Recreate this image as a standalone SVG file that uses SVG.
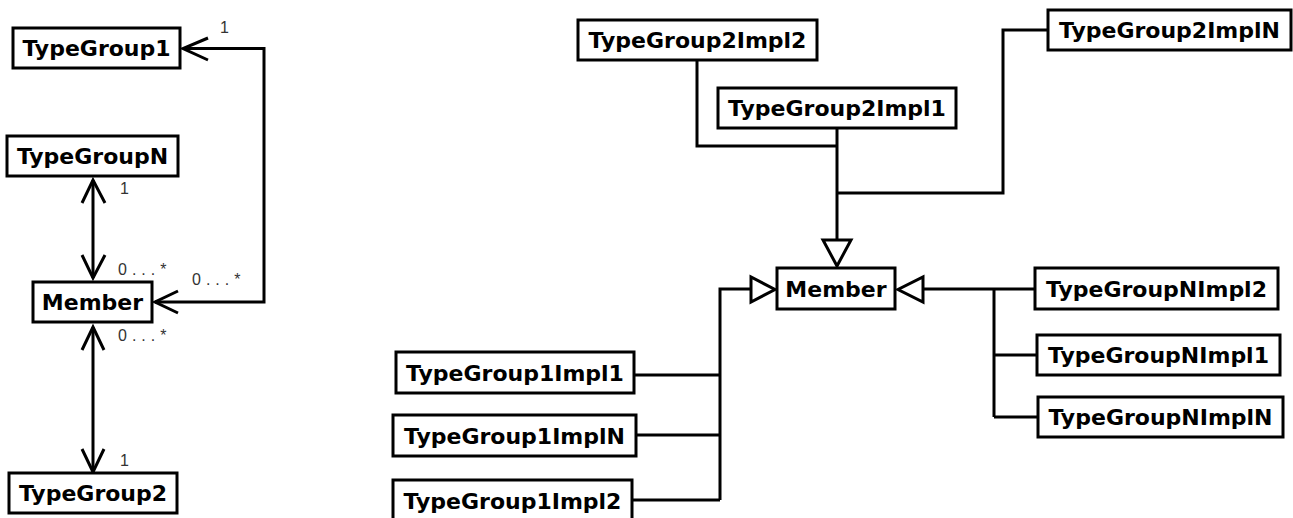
<svg xmlns="http://www.w3.org/2000/svg" width="1293" height="518" viewBox="0 0 1293 518">
<style>
.box{fill:#fff;stroke:#000;stroke-width:3}
.t{font-family:"DejaVu Sans",sans-serif;font-weight:bold;font-size:22px;text-anchor:middle;fill:#000}
.c{fill:none;stroke:#000;stroke-width:3}
.tri{fill:#fff;stroke:#000;stroke-width:3;stroke-linejoin:miter}
.m{font-family:"Liberation Sans",Arial,sans-serif;font-size:16px;fill:#333;letter-spacing:5px}
.n{font-family:"Liberation Sans",Arial,sans-serif;font-size:16px;fill:#333}
</style>
<rect width="1293" height="518" fill="#fff"/>
<g id="connectors">
<path class="c" d="M155,302 H264 V48.5 H183"/>
<path class="c" d="M208,38 L183,48.5 L208,60"/>
<path class="c" d="M178,291 L155,302 L178,313"/>
<path class="c" d="M93,180 V278"/>
<path class="c" d="M82,203 L93,180 L105,203"/>
<path class="c" d="M82,255 L93,278 L105,255"/>
<path class="c" d="M93,327 V472"/>
<path class="c" d="M82,350 L93,327 L104,350"/>
<path class="c" d="M82,449 L93,472 L104,449"/>
<path class="c" d="M697,60 V146 H837"/>
<path class="c" d="M837,128 V240"/>
<path class="c" d="M1048,30 H1003 V193 H837"/>
<polygon class="tri" points="823,240 851,240 837,266"/>
<path class="c" d="M751,289 H720 V500"/>
<path class="c" d="M634,375 H720"/>
<path class="c" d="M636,435 H720"/>
<path class="c" d="M632,500 H720"/>
<polygon class="tri" points="751,277 751,302 775,289.5"/>
<path class="c" d="M923,289 H1035"/>
<path class="c" d="M994,289 V417"/>
<path class="c" d="M994,355 H1037"/>
<path class="c" d="M994,417 H1038"/>
<polygon class="tri" points="923,277 923,302 898,289.5"/>
<text class="n" x="220" y="33">1</text>
<text class="n" x="120" y="194">1</text>
<text class="m" x="118" y="275">0...*</text>
<text class="m" x="192" y="285">0...*</text>
<text class="m" x="118" y="341">0...*</text>
<text class="n" x="120" y="466">1</text>
</g>
<g id="TypeGroup1"><rect class="box" x="13" y="28" width="167" height="40"/><text class="t" x="96.5" y="56">TypeGroup1</text></g>
<g id="TypeGroupN"><rect class="box" x="7" y="136" width="171" height="40"/><text class="t" x="92.5" y="164">TypeGroupN</text></g>
<g id="MemberL"><rect class="box" x="33" y="282" width="119" height="40"/><text class="t" x="92.5" y="310">Member</text></g>
<g id="TypeGroup2"><rect class="box" x="9" y="473" width="168" height="40"/><text class="t" x="93" y="501">TypeGroup2</text></g>
<g id="TypeGroup2Impl2"><rect class="box" x="578" y="20" width="239" height="40"/><text class="t" x="697.5" y="48">TypeGroup2Impl2</text></g>
<g id="TypeGroup2Impl1"><rect class="box" x="718" y="88" width="238" height="40"/><text class="t" x="837" y="116">TypeGroup2Impl1</text></g>
<g id="TypeGroup2ImplN"><rect class="box" x="1048" y="10" width="243" height="40"/><text class="t" x="1169.5" y="38">TypeGroup2ImplN</text></g>
<g id="MemberR"><rect class="box" x="777" y="268" width="118" height="41"/><text class="t" x="836" y="296.5">Member</text></g>
<g id="TypeGroup1Impl1"><rect class="box" x="396" y="352" width="238" height="41"/><text class="t" x="515" y="380.5">TypeGroup1Impl1</text></g>
<g id="TypeGroup1ImplN"><rect class="box" x="393" y="415" width="243" height="41"/><text class="t" x="514.5" y="443.5">TypeGroup1ImplN</text></g>
<g id="TypeGroup1Impl2"><rect class="box" x="393" y="480" width="239" height="41"/><text class="t" x="512.5" y="508.5">TypeGroup1Impl2</text></g>
<g id="TypeGroupNImpl2"><rect class="box" x="1035" y="268" width="243" height="41"/><text class="t" x="1156.5" y="296.5">TypeGroupNImpl2</text></g>
<g id="TypeGroupNImpl1"><rect class="box" x="1037" y="335" width="243" height="40"/><text class="t" x="1158.5" y="363">TypeGroupNImpl1</text></g>
<g id="TypeGroupNImplN"><rect class="box" x="1038" y="397" width="245" height="40"/><text class="t" x="1160.5" y="425">TypeGroupNImplN</text></g>
</svg>
